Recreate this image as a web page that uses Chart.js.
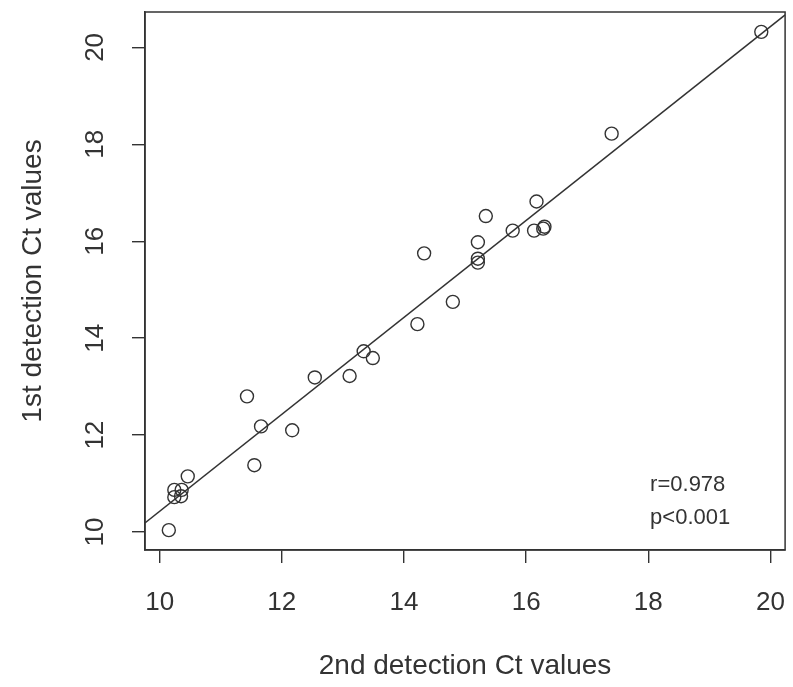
<!DOCTYPE html>
<html>
<head>
<meta charset="utf-8">
<script src="https://cdn.jsdelivr.net/npm/chart.js@4.4.1/dist/chart.umd.min.js"></script>
<style>
  html, body { margin: 0; padding: 0; background: #fff; overflow: hidden; }
  #wrap { width: 793px; height: 687px; }
  canvas { display: block; }
</style>
</head>
<body>
<div id="wrap"><canvas id="ctChart"></canvas></div>
<script>
// values
const secondCt = [10.15, 10.24, 10.36, 10.24, 10.35, 10.46, 11.43, 11.55, 11.66, 12.17,
                  12.54, 13.11, 13.34, 13.49, 14.22, 14.33, 14.80, 15.21, 15.21, 15.21,
                  15.34, 15.78, 16.13, 16.17, 16.30, 16.28, 17.40, 19.85];
const firstCt  = [10.04, 10.87, 10.87, 10.72, 10.74, 11.15, 12.80, 11.38, 12.18, 12.10,
                  13.19, 13.22, 13.73, 13.59, 14.29, 15.75, 14.75, 15.98, 15.64, 15.56,
                  16.52, 16.22, 16.22, 16.82, 16.30, 16.26, 18.22, 20.32];
const fitSlope = 1.0;
const fitIntercept = 0.43;
const statLines = ["r=0.978", "p<0.001"];
const statPos = { x: 18.03, y: [10.97, 10.29] };

const xMin = 9.76, xMax = 20.24;
const yMin = 9.63, yMax = 20.73;

const ink = "#333333";
const fontFamily = "'Liberation Sans', Arial, sans-serif";

const points = secondCt.map((v, i) => ({ x: v, y: firstCt[i] }));
const fitLine = [xMin, xMax].map(v => ({ x: v, y: fitIntercept + fitSlope * v }));

// R-like full box, rotated y tick labels and the r / p note
const boxPlugin = {
    id: "boxPlugin",
    afterDraw(chart) {
        const ctx = chart.ctx;
        const a = chart.chartArea;
        const xs = chart.scales.x, ys = chart.scales.y;
        ctx.save();
        ctx.strokeStyle = ink;
        ctx.lineWidth = 1.5;
        ctx.strokeRect(a.left, a.top, a.right - a.left, a.bottom - a.top);

        ctx.fillStyle = ink;
        ctx.font = "26px " + fontFamily;
        ctx.textAlign = "center";
        ctx.textBaseline = "middle";
        ys.ticks.forEach(t => {
            const py = ys.getPixelForValue(t.value);
            ctx.save();
            ctx.translate(96, py);
            ctx.rotate(-Math.PI / 2);
            ctx.fillText(String(t.value), 0, 0);
            ctx.restore();
        });

        ctx.font = "22px " + fontFamily;
        ctx.textAlign = "left";
        statLines.forEach((s, i) => {
            ctx.fillText(s, xs.getPixelForValue(statPos.x), ys.getPixelForValue(statPos.y[i]));
        });
        ctx.restore();
    }
};

new Chart(document.getElementById("ctChart"), {
    type: "scatter",
    data: {
        datasets: [
            {
                label: "samples",
                data: points,
                pointStyle: "circle",
                pointRadius: 6.5,
                pointHoverRadius: 6.5,
                pointBorderWidth: 1.4,
                pointBorderColor: ink,
                pointBackgroundColor: "rgba(0,0,0,0)"
            },
            {
                label: "fit",
                type: "line",
                data: fitLine,
                borderColor: ink,
                borderWidth: 1.4,
                pointRadius: 0,
                fill: false
            }
        ]
    },
    options: {
        responsive: true,
        maintainAspectRatio: false,
        animation: false,
        events: [],
        layout: { padding: { top: 12, right: -4, left: 0, bottom: 0 } },
        plugins: {
            legend: { display: false },
            tooltip: { enabled: false }
        },
        scales: {
            x: {
                type: "linear",
                min: xMin,
                max: xMax,
                grid: { drawOnChartArea: false, drawTicks: true, tickLength: 13, color: ink, lineWidth: 1.4 },
                border: { display: true, color: ink, width: 1.5 },
                ticks: {
                    stepSize: 2,
                    includeBounds: false,
                    padding: 24,
                    color: ink,
                    font: { family: fontFamily, size: 26 }
                },
                title: {
                    display: true,
                    text: "2nd detection Ct values",
                    color: ink,
                    font: { family: fontFamily, size: 28 },
                    padding: { top: 0, bottom: 4 }
                },
                afterFit(scale) {
                    scale.height = 137;
                    scale.paddingLeft = 0;
                    scale.paddingRight = 0;
                }
            },
            y: {
                type: "linear",
                min: yMin,
                max: yMax,
                grid: { drawOnChartArea: false, drawTicks: true, tickLength: 13, color: ink, lineWidth: 1.4 },
                border: { display: true, color: ink, width: 1.5 },
                ticks: {
                    stepSize: 2,
                    includeBounds: false,
                    display: false
                },
                title: {
                    display: true,
                    text: "1st detection Ct values",
                    color: ink,
                    font: { family: fontFamily, size: 28 },
                    padding: { top: 16, bottom: 0 }
                },
                afterFit(scale) {
                    scale.width = 145;
                    scale.paddingTop = 0;
                    scale.paddingBottom = 0;
                }
            }
        }
    },
    plugins: [boxPlugin]
});
</script>
</body>
</html>
